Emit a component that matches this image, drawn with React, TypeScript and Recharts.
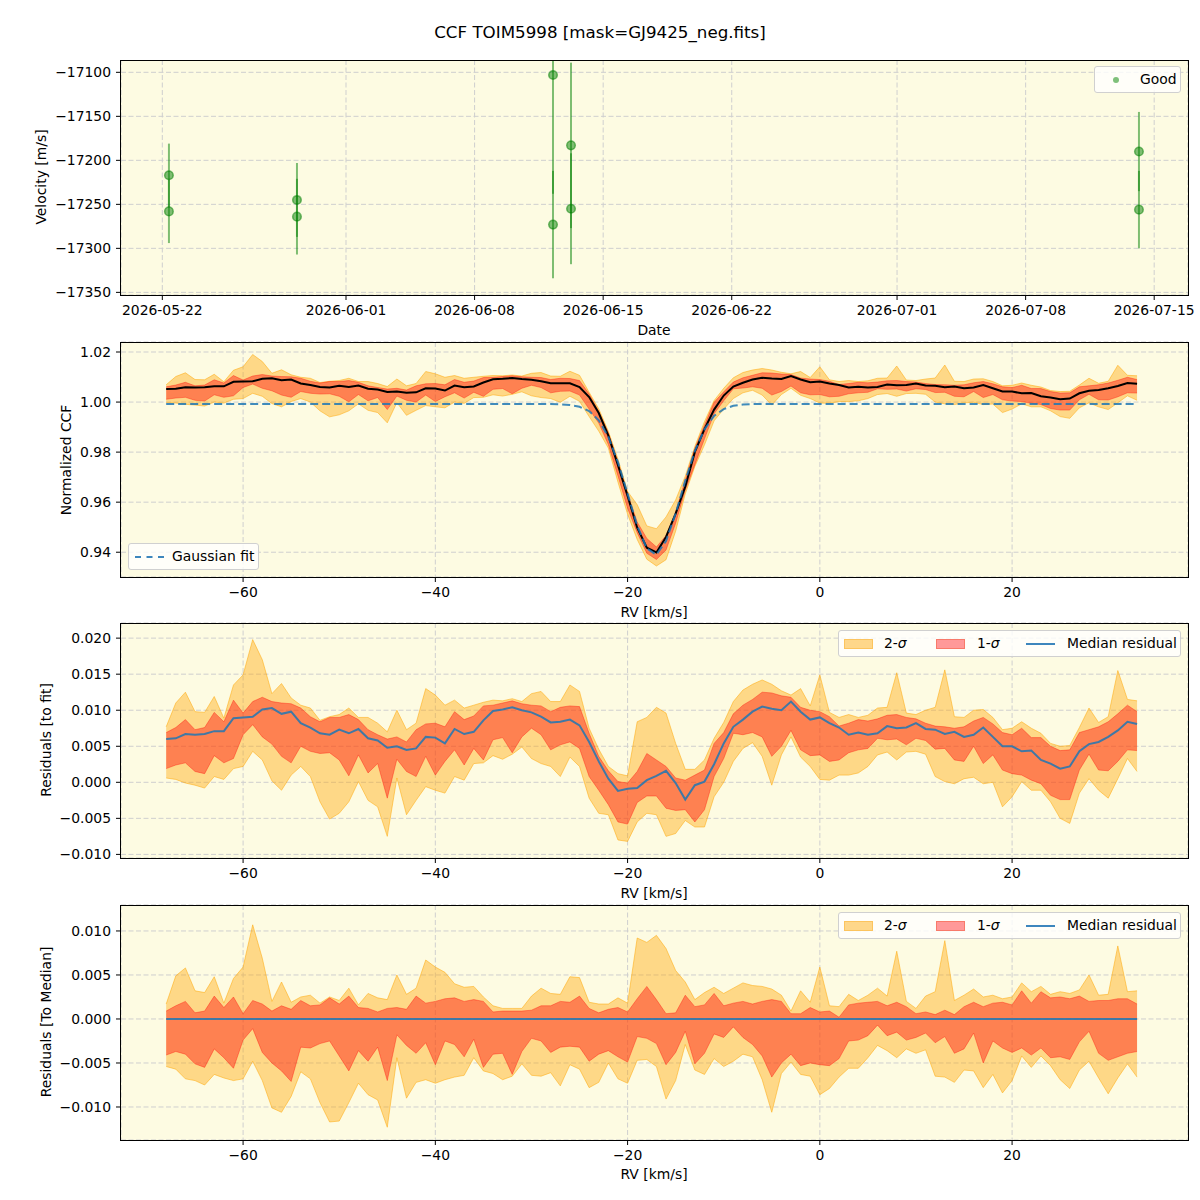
import React from "react"
import {
  ComposedChart,
  ScatterChart,
  Scatter,
  ErrorBar,
  Area,
  Line,
  XAxis,
  YAxis,
  CartesianGrid,
} from "recharts"

const FONT = "'DejaVu Sans', Verdana, sans-serif"
const BG = "#fdfbe2"
const GRID = "#cfcfcf"

// ---- top panel: RV per observation (days after 2026-05-22 00:00) ----
const obsDay = [0.36, 0.36, 7.33, 7.33, 21.27, 21.27, 22.25, 22.25, 53.17, 53.17]
const obsRv = [-17217, -17258, -17245, -17264, -17103, -17273, -17183, -17255, -17190, -17256]
const obsErr = [36, 36, 42, 43, 135, 61, 94, 63, 45, 44]

const dateTickDay = [0, 10, 17, 24, 31, 40, 47, 54]
const dateTickLabel = [
  "2026-05-22", "2026-06-01", "2026-06-08", "2026-06-15",
  "2026-06-22", "2026-07-01", "2026-07-08", "2026-07-15",
]
const velTicks = [-17350, -17300, -17250, -17200, -17150, -17100]

// ---- CCF panels ----
const rv = [
  -68, -67, -66, -65, -64, -63, -62, -61, -60, -59,
  -58, -57, -56, -55, -54, -53, -52, -51, -50, -49,
  -48, -47, -46, -45, -44, -43, -42, -41, -40, -39,
  -38, -37, -36, -35, -34, -33, -32, -31, -30, -29,
  -28, -27, -26, -25, -24, -23, -22, -21, -20, -19,
  -18, -17, -16, -15, -14, -13, -12, -11, -10, -9,
  -8, -7, -6, -5, -4, -3, -2, -1, 0, 1,
  2, 3, 4, 5, 6, 7, 8, 9, 10, 11,
  12, 13, 14, 15, 16, 17, 18, 19, 20, 21,
  22, 23, 24, 25, 26, 27, 28, 29, 30, 31,
  32, 33,
]

const gaussFit = [
  0.9992, 0.9992, 0.9992, 0.9992, 0.9992, 0.9992, 0.9992, 0.9992, 0.9992, 0.9992,
  0.9992, 0.9992, 0.9992, 0.9992, 0.9992, 0.9992, 0.9992, 0.9992, 0.9992, 0.9992,
  0.9992, 0.9992, 0.9992, 0.9992, 0.9992, 0.9992, 0.9992, 0.9992, 0.9992, 0.9992,
  0.9992, 0.9992, 0.9992, 0.9992, 0.9992, 0.9992, 0.9992, 0.9992, 0.9992, 0.9992,
  0.9992, 0.9991, 0.9988, 0.9981, 0.9964, 0.9927, 0.9861, 0.976, 0.9634, 0.9506,
  0.9415, 0.939, 0.9445, 0.9555, 0.9686, 0.9805, 0.9891, 0.9945, 0.9972, 0.9985,
  0.999, 0.9992, 0.9992, 0.9992, 0.9992, 0.9992, 0.9992, 0.9992, 0.9992, 0.9992,
  0.9992, 0.9992, 0.9992, 0.9992, 0.9992, 0.9992, 0.9992, 0.9992, 0.9992, 0.9992,
  0.9992, 0.9992, 0.9992, 0.9992, 0.9992, 0.9992, 0.9992, 0.9992, 0.9992, 0.9992,
  0.9992, 0.9992, 0.9992, 0.9992, 0.9992, 0.9992, 0.9992, 0.9992, 0.9992, 0.9992,
  0.9992, 0.9992,
]

// residuals to the fit, in units of 1e-3
const residMed = [
  6.0, 6.1, 6.7, 6.6, 6.7, 7.1, 7.1, 8.9, 9.0, 9.1,
  10.1, 10.3, 9.5, 9.8, 8.2, 7.6, 6.8, 6.6, 7.3, 6.8,
  7.4, 6.1, 5.8, 4.8, 5.0, 4.5, 4.7, 6.3, 6.2, 5.4,
  7.4, 6.7, 7.0, 8.6, 9.9, 10.1, 10.4, 10.0, 9.7, 9.1,
  8.3, 8.4, 8.7, 7.9, 5.6, 2.9, 0.5, -1.2, -0.9, -0.8,
  0.3, 0.9, 1.6, -0.1, -2.4, -0.4, 0.1, 2.5, 5.4, 7.7,
  8.7, 9.8, 10.5, 10.2, 10.0, 11.2, 9.8, 8.7, 9.0, 8.2,
  7.6, 6.6, 6.9, 6.6, 6.8, 7.8, 7.5, 7.6, 8.2, 7.4,
  7.3, 6.7, 7.0, 6.3, 6.6, 7.6, 6.3, 5.0, 5.0, 4.3,
  4.4, 3.1, 2.6, 1.9, 2.2, 4.3, 5.3, 5.6, 6.3, 7.2,
  8.4, 8.1,
]
const resid1Hi = [
  6.9, 7.6, 8.7, 7.3, 7.6, 9.7, 8.4, 11.4, 9.6, 11.2,
  11.8, 11.2, 11.0, 10.9, 10.3, 9.1, 8.4, 9.0, 9.0, 9.4,
  8.7, 7.3, 6.6, 6.0, 6.3, 5.6, 7.3, 8.1, 8.2, 7.7,
  9.8, 8.7, 9.2, 10.6, 10.7, 11.0, 11.3, 10.9, 10.7, 10.6,
  9.8, 10.4, 10.6, 10.5, 6.8, 3.6, 1.6, 0.1, -0.1, 1.5,
  4.0, 3.1, 2.2, 0.6, 0.3, 1.0, 1.7, 5.4, 6.9, 9.5,
  10.7, 11.5, 12.5, 12.4, 12.0, 11.8, 10.4, 10.0, 9.8, 9.1,
  7.8, 8.2, 8.7, 8.5, 8.8, 9.3, 9.4, 9.0, 8.8, 8.2,
  7.8, 7.7, 7.5, 7.7, 8.5, 9.0, 8.1, 6.9, 6.6, 7.5,
  6.2, 6.2, 5.0, 4.4, 4.5, 6.9, 7.3, 7.7, 8.4, 9.5,
  10.7, 9.8,
]
const resid1Lo = [
  1.9, 2.4, 2.7, 1.5, 1.2, 3.7, 2.7, 3.3, 6.6, 8.0,
  6.3, 5.3, 3.6, 2.7, 5.0, 4.3, 4.0, 4.1, 3.1, 0.9,
  3.8, 1.3, 2.6, -2.2, 3.2, 1.5, 0.8, 3.6, 1.0, 2.9,
  4.5, 2.4, 4.7, 3.1, 5.9, 6.2, 4.1, 6.3, 7.5, 6.6,
  4.5, 5.2, 5.6, 4.7, 0.8, -1.1, -3.1, -5.5, -5.8, -2.8,
  -1.9, -1.9, -3.6, -3.9, -3.8, -5.5, -3.8, 0.8, 3.3, 6.8,
  6.6, 6.9, 6.3, 3.6, 5.0, 7.2, 4.5, 3.7, 3.8, 2.9,
  3.1, 4.1, 4.5, 4.7, 6.1, 5.9, 6.0, 5.2, 6.1, 5.8,
  4.6, 4.7, 3.1, 2.9, 5.0, 2.6, 3.8, 1.7, 1.2, 1.0,
  0.3, -0.2, -1.8, -2.4, -2.4, 1.7, 3.9, 1.7, 1.6, 2.9,
  4.5, 4.4,
]
const resid2Hi = [
  7.7, 11.0, 12.5, 9.8, 9.7, 11.9, 8.9, 13.5, 14.9, 19.8,
  17.0, 12.3, 13.7, 11.7, 10.7, 10.3, 8.6, 9.1, 9.4, 10.3,
  9.0, 9.0, 8.2, 7.0, 10.0, 7.3, 8.2, 13.0, 12.1, 10.7,
  11.4, 10.3, 10.7, 11.1, 11.4, 11.3, 11.6, 11.2, 12.3, 12.6,
  11.2, 11.2, 13.5, 12.6, 7.5, 4.6, 2.2, 1.2, 0.9, 8.4,
  9.0, 10.4, 9.6, 5.4, 1.8, 1.8, 3.1, 6.1, 8.3, 11.2,
  12.8, 13.6, 14.2, 13.6, 12.7, 12.1, 13.0, 10.6, 14.9, 9.7,
  9.0, 9.4, 9.0, 9.3, 10.3, 10.4, 15.2, 9.6, 9.4, 10.0,
  10.4, 15.6, 9.1, 9.0, 10.0, 10.1, 9.0, 7.3, 7.5, 8.4,
  7.5, 6.8, 5.4, 5.0, 5.1, 7.6, 10.3, 8.3, 9.1, 15.5,
  11.5, 11.3,
]
const resid2Lo = [
  0.6, 0.4, -0.1, -0.4, -0.8, 0.8, 0.4, 1.9, 2.2, 4.3,
  3.1, 0.2, -1.1, 1.0, 2.2, 0.8, -2.7, -5.1, -4.3, -2.7,
  0.1, -2.5, -3.4, -7.5, 0.6, -4.5, -2.5, -0.6, -1.1, -1.5,
  0.8, 0.3, 2.6, 2.7, 3.7, 3.2, 3.9, 4.9, 3.3, 2.6,
  2.2, 0.8, 3.5, 2.2, -2.2, -4.3, -4.5, -8.0, -8.2, -5.5,
  -4.3, -4.5, -7.5, -7.1, -5.3, -6.2, -6.2, -2.0, 0.0, 2.9,
  4.7, 5.5, 3.6, -0.4, 3.8, 6.3, 3.5, 2.2, 0.4, 0.3,
  1.0, 1.0, 1.3, 2.2, 3.8, 4.2, 3.1, 4.2, 4.3, 3.9,
  0.8, 0.1, -0.2, 0.5, 0.7, -0.2, 0.0, -3.4, -2.0, 0.1,
  -1.1, -1.1, -2.7, -5.0, -5.7, -1.5, 0.5, -1.1, -2.2, 0.5,
  3.3, 1.5,
]

const rvTicks = [-60, -40, -20, 0, 20]
const RV_DOMAIN: [number, number] = [-72.7, 38.3]

const obsPoints = obsDay.map((d, i) => ({ day: d, v: obsRv[i], err: obsErr[i] }))

const ccfRows = rv.map((x, i) => {
  const f = gaussFit[i]
  return {
    rv: x,
    fit: f,
    ccf: f + residMed[i] / 1000,
    s1: [f + resid1Lo[i] / 1000, f + resid1Hi[i] / 1000],
    s2: [f + resid2Lo[i] / 1000, f + resid2Hi[i] / 1000],
  }
})

const residRows = rv.map((x, i) => ({
  rv: x,
  med: residMed[i] / 1000,
  s1: [resid1Lo[i] / 1000, resid1Hi[i] / 1000],
  s2: [resid2Lo[i] / 1000, resid2Hi[i] / 1000],
}))

const medianRows = rv.map((x, i) => ({
  rv: x,
  zero: 0,
  s1: [(resid1Lo[i] - residMed[i]) / 1000, (resid1Hi[i] - residMed[i]) / 1000],
  s2: [(resid2Lo[i] - residMed[i]) / 1000, (resid2Hi[i] - residMed[i]) / 1000],
}))

const tickStyle = { fill: "#000", fontSize: 13.9, fontFamily: FONT }
const minus = (s: string) => s.replace("-", "\u2212")

const PLOT_H = 235

function Frame({ top }: { top: number }) {
  return (
    <div
      style={{
        position: "absolute",
        left: 120,
        top,
        width: 1069,
        height: PLOT_H + 1,
        border: "1px solid #000",
        boxSizing: "border-box",
        pointerEvents: "none",
      }}
    />
  )
}

function Text({ x, y, children, size = 13.9, rotate = false }: any) {
  return (
    <div
      style={{
        position: "absolute",
        left: x,
        top: y,
        transform: rotate ? "translate(-50%, -50%) rotate(-90deg)" : "translate(-50%, -50%)",
        fontFamily: FONT,
        fontSize: size,
        lineHeight: "20px",
        whiteSpace: "nowrap",
        color: "#000",
      }}
    >
      {children}
    </div>
  )
}

function LegendBox({ left, top, width, children }: any) {
  return (
    <div
      style={{
        position: "absolute",
        left,
        top,
        width,
        height: 27,
        background: "rgba(255,255,255,0.8)",
        border: "1px solid #d0d0d0",
        borderRadius: 3,
        boxSizing: "border-box",
        fontFamily: FONT,
        fontSize: 13.9,
      }}
    >
      {children}
    </div>
  )
}

function BandLegend({ top }: { top: number }) {
  const label = (x: number, t: React.ReactNode) => (
    <span style={{ position: "absolute", left: x, top: 3, lineHeight: "18px" }}>{t}</span>
  )
  return (
    <LegendBox left={838} top={top} width={343}>
      <div style={{ position: "absolute", left: 5, top: 8, width: 29, height: 10, background: "#fed78a", border: "1px solid #fcc45e", boxSizing: "border-box" }} />
      {label(45, <>2-<i>σ</i></>)}
      <div style={{ position: "absolute", left: 97, top: 8, width: 29, height: 10, background: "#ff9999", border: "1px solid #f87a6a", boxSizing: "border-box" }} />
      {label(138, <>1-<i>σ</i></>)}
      <div style={{ position: "absolute", left: 187, top: 12, width: 29, height: 2, background: "#3d86bd" }} />
      {label(228, "Median residual")}
    </LegendBox>
  )
}

function GoodDot(props: any) {
  return (
    <circle
      cx={props.cx}
      cy={props.cy}
      r={4.3}
      fill="#008000"
      fillOpacity={0.5}
      stroke="#008000"
      strokeOpacity={0.5}
      strokeWidth={1.5}
    />
  )
}

function RvPanel({ top, rows, domain, ticks, fmt, children }: any) {
  return (
    <div style={{ position: "absolute", left: 0, top: top - 10 }}>
      <ComposedChart width={1200} height={PLOT_H + 60} data={rows} margin={{ top: 10, right: 12, bottom: 0, left: 0 }}>
        <CartesianGrid fill={BG} stroke={GRID} strokeDasharray="5 2.5" />
        <XAxis
          type="number"
          dataKey="rv"
          domain={RV_DOMAIN}
          ticks={rvTicks}
          interval={0}
          allowDataOverflow
          height={50}
          axisLine={false}
          tickSize={5}
          tickMargin={5}
          tickLine={{ stroke: "#000" }}
          tick={tickStyle}
          tickFormatter={(v: number) => minus(String(v))}
        />
        <YAxis
          type="number"
          domain={domain}
          ticks={ticks}
          interval={0}
          allowDataOverflow
          width={121}
          axisLine={false}
          tickSize={5}
          tickMargin={5}
          tickLine={{ stroke: "#000" }}
          tick={tickStyle}
          tickFormatter={fmt}
        />
        {children}
      </ComposedChart>
    </div>
  )
}

function bands() {
  return [
    <Area
      key="s2"
      type="linear"
      dataKey="s2"
      fill="orange"
      fillOpacity={0.4}
      stroke="orange"
      strokeOpacity={0.5}
      strokeWidth={1}
      dot={false}
      activeDot={false}
      isAnimationActive={false}
    />,
    <Area
      key="s1"
      type="linear"
      dataKey="s1"
      fill="red"
      fillOpacity={0.4}
      stroke="red"
      strokeOpacity={0.35}
      strokeWidth={1}
      dot={false}
      activeDot={false}
      isAnimationActive={false}
    />,
  ]
}

export default function App() {
  return (
    <div style={{ position: "absolute", left: 0, top: 0, width: 1200, height: 1200, background: "#fff" }}>
      <Text x={600} y={32} size={16.7}>CCF TOIM5998 [mask=GJ9425_neg.fits]</Text>

      {/* RV time series; svg starts at the plot top so long error bars are clipped */}
      <div style={{ position: "absolute", left: 0, top: 60 }}>
        <ScatterChart width={1200} height={PLOT_H + 50} margin={{ top: 0, right: 12, bottom: 0, left: 0 }}>
          <CartesianGrid fill={BG} stroke={GRID} strokeDasharray="5 2.5" />
          <XAxis
            type="number"
            dataKey="day"
            domain={[-2.25, 55.84]}
            ticks={dateTickDay}
            interval={0}
            allowDataOverflow
            height={50}
            axisLine={false}
            tickSize={5}
            tickMargin={5}
            tickLine={{ stroke: "#000" }}
            tick={tickStyle}
            tickFormatter={(d: number) => dateTickLabel[dateTickDay.indexOf(d)]}
          />
          <YAxis
            type="number"
            dataKey="v"
            domain={[-17353, -17086]}
            ticks={velTicks}
            interval={0}
            allowDataOverflow
            width={121}
            axisLine={false}
            tickSize={5}
            tickMargin={5}
            tickLine={{ stroke: "#000" }}
            tick={tickStyle}
            tickFormatter={(v: number) => minus(String(v))}
          />
          <Scatter data={obsPoints} shape={GoodDot} isAnimationActive={false}>
            <ErrorBar
              dataKey="err"
              direction="y"
              width={0}
              stroke="#008000"
              strokeOpacity={0.5}
              strokeWidth={2}
              isAnimationActive={false}
            />
          </Scatter>
        </ScatterChart>
      </div>
      <Frame top={60} />
      <Text x={654} y={330}>Date</Text>
      <Text x={41} y={177} rotate>Velocity [m/s]</Text>
      <LegendBox left={1094} top={66} width={87}>
        <div style={{ position: "absolute", left: 18, top: 10, width: 6, height: 6, borderRadius: 3, background: "#7fc07a" }} />
        <span style={{ position: "absolute", left: 45, top: 3, lineHeight: "18px" }}>Good</span>
      </LegendBox>

      {/* CCF with Gaussian fit */}
      <RvPanel
        top={342}
        rows={ccfRows}
        domain={[0.9301, 1.024]}
        ticks={[0.94, 0.96, 0.98, 1.0, 1.02]}
        fmt={(v: number) => v.toFixed(2)}
      >
        {bands()}
        <Line type="linear" dataKey="ccf" stroke="#000" strokeWidth={2} dot={false} activeDot={false} isAnimationActive={false} />
        <Line type="linear" dataKey="fit" stroke="#1f77b4" strokeOpacity={0.85} strokeWidth={2} strokeDasharray="8 4" dot={false} activeDot={false} isAnimationActive={false} />
      </RvPanel>
      <Frame top={342} />
      <Text x={654} y={612}>RV [km/s]</Text>
      <Text x={66} y={460} rotate>Normalized CCF</Text>
      <LegendBox left={128} top={543} width={131}>
        <div style={{ position: "absolute", left: 6, top: 12, width: 29, height: 0, borderTop: "2px dashed #3d86bd" }} />
        <span style={{ position: "absolute", left: 43, top: 3, lineHeight: "18px" }}>Gaussian fit</span>
      </LegendBox>

      {/* residuals to fit */}
      <RvPanel
        top={623}
        rows={residRows}
        domain={[-0.0105, 0.0221]}
        ticks={[-0.01, -0.005, 0, 0.005, 0.01, 0.015, 0.02]}
        fmt={(v: number) => minus(v.toFixed(3))}
      >
        {bands()}
        <Line type="linear" dataKey="med" stroke="#1f77b4" strokeOpacity={0.85} strokeWidth={2} dot={false} activeDot={false} isAnimationActive={false} />
      </RvPanel>
      <Frame top={623} />
      <Text x={654} y={893}>RV [km/s]</Text>
      <Text x={46} y={740} rotate>Residuals [to fit]</Text>
      <BandLegend top={630} />

      {/* residuals to median */}
      <RvPanel
        top={905}
        rows={medianRows}
        domain={[-0.01375, 0.01295]}
        ticks={[-0.01, -0.005, 0, 0.005, 0.01]}
        fmt={(v: number) => minus(v.toFixed(3))}
      >
        {bands()}
        <Line type="linear" dataKey="zero" stroke="#1f77b4" strokeOpacity={0.85} strokeWidth={2} dot={false} activeDot={false} isAnimationActive={false} />
      </RvPanel>
      <Frame top={905} />
      <Text x={654} y={1174}>RV [km/s]</Text>
      <Text x={46} y={1022} rotate>Residuals [To Median]</Text>
      <BandLegend top={912} />
    </div>
  )
}
